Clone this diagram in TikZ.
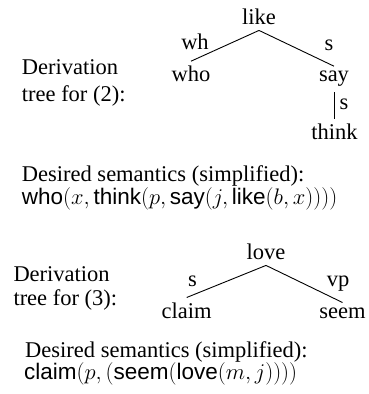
\RequirePackage{fix-cm}
\documentclass[tikz,border=0pt]{standalone}
\usepackage{fontspec}
\setmainfont{Liberation Serif}
\setsansfont{Liberation Sans}
\begin{document}
\begin{tikzpicture}[x=1pt,y=1pt,
  every node/.style={font=\fontsize{22.5}{25}\selectfont},
  lbl/.style={inner sep=0pt, anchor=base},
  txt/.style={inner sep=0pt, anchor=base west},
  tn/.style={inner xsep=0pt, inner ysep=5pt, anchor=base},
  edge/.style={line width=0.9pt}]
\useasboundingbox (0,0) rectangle (369,394);
% first block
\node[txt] (d1a) at (21.7,319) {Derivation};
\node[txt] (d1b) at (21.7,292.5) {tree for (2):};
\node[tn] (like) at (259,369) {like};
\node[tn] (who) at (191,312) {who};
\node[tn] (say) at (334,312) {say};
\node[tn] (think) at (334.5,254) {think};
\draw[edge] (like.south) -- (who.north);
\draw[edge] (like.south) -- (say.north);
\draw[edge] (say.south) -- (say.south |- think.north);
\node[lbl] (l1) at (195,344) {wh};
\node[lbl] (l2) at (329,343) {s};
\node[lbl] (l3) at (344,284) {s};
\node[txt] (s1a) at (21.7,212) {Desired semantics (simplified):};
\node[txt] (s1b) at (21.7,189) {\textsf{who}$(x,\textsf{think}(p,\textsf{say}(j,\textsf{like}(b,x))))$};
% second block
\node[txt] (d2a) at (13.3,112.3) {Derivation};
\node[txt] (d2b) at (13.3,88.5) {tree for (3):};
\node[tn] (love) at (266,134) {love};
\node[tn] (claim) at (186.7,75.7) {claim};
\node[tn] (seem) at (342.5,75.7) {seem};
\draw[edge] (love.south) -- (claim.north);
\draw[edge] (love.south) -- (seem.north);
\node[lbl] (l4) at (192.5,107.3) {s};
\node[lbl] (l5) at (338,107.3) {vp};
\node[txt] (s2a) at (25,36) {Desired semantics (simplified):};
\node[txt] (s2b) at (24,14) {\textsf{claim}$(p,(\textsf{seem}(\textsf{love}(m,j))))$};
\end{tikzpicture}
\end{document}
